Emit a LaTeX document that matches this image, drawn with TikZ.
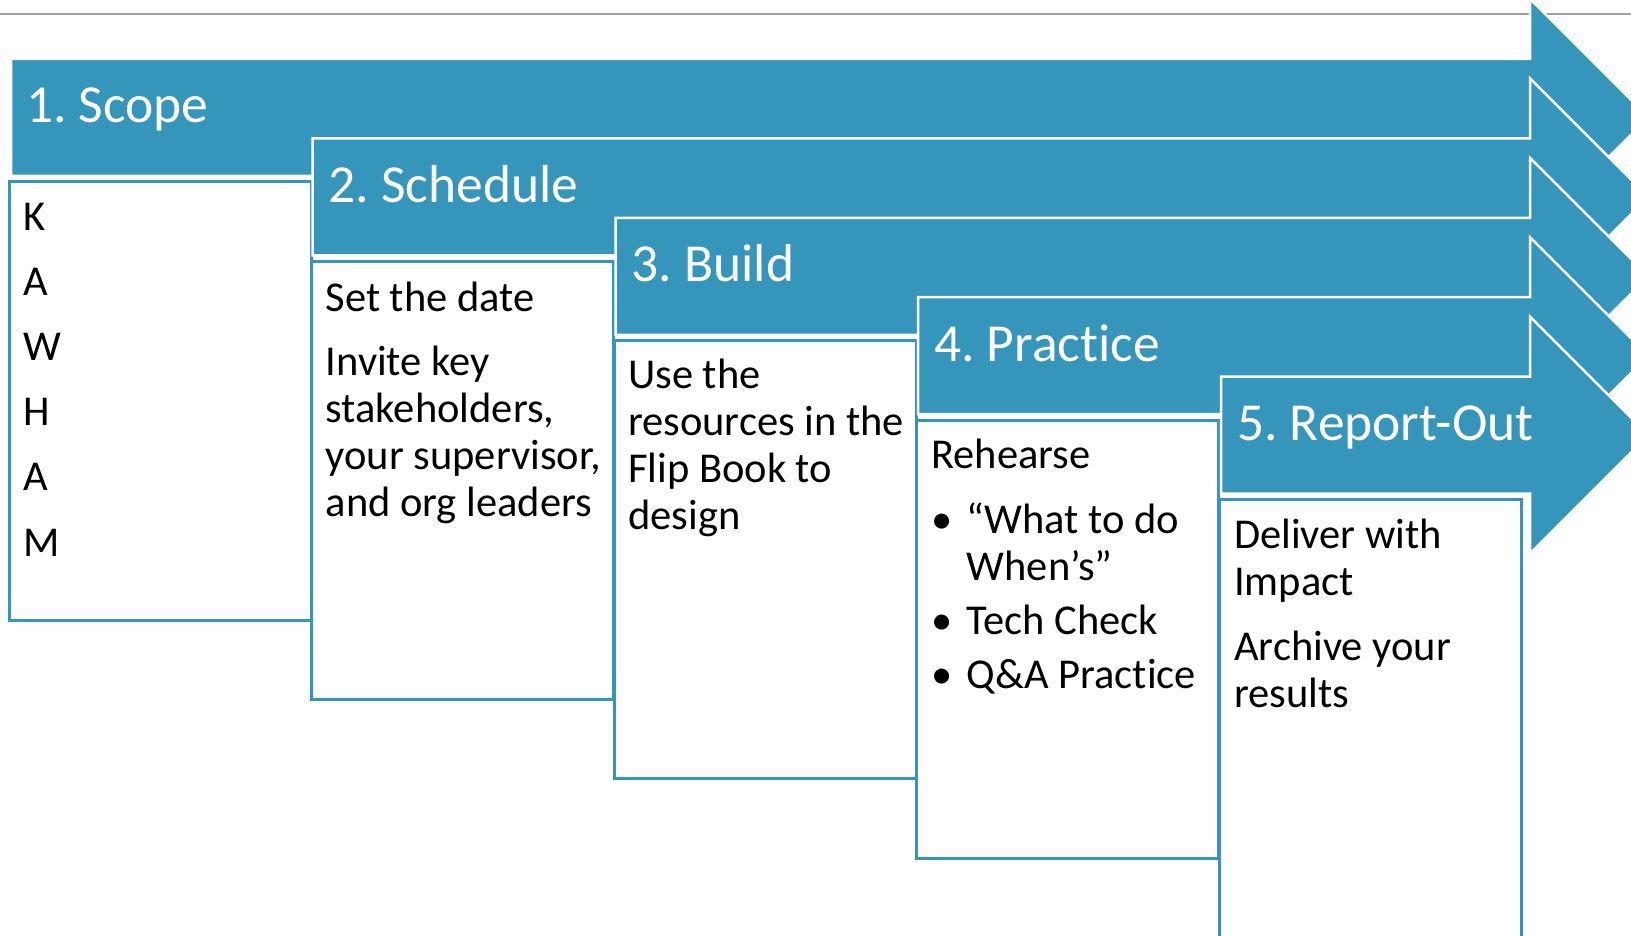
\documentclass[tikz,border=0pt]{standalone}
\usepackage{fontspec}
\setmainfont{Carlito}[Ligatures={NoCommon}]
\frenchspacing
\definecolor{sblue}{RGB}{54,149,187}
\definecolor{topgray}{RGB}{160,160,160}
\tikzset{
  arrowshape/.style={fill=sblue, draw=white, line width=2.5pt, line join=miter},
  cbox/.style={draw=sblue, fill=white, line width=3pt, anchor=north west,
    minimum width=302pt, minimum height=438pt, inner sep=0pt, outer sep=0pt},
  headtext/.style={anchor=base west, inner sep=0pt, text=white,
    font=\fontsize{53.5}{60}\selectfont\frenchspacing},
  bodytext/.style={anchor=base west, inner sep=0pt, text=black,
    font=\fontsize{42.5}{47}\selectfont},
  bullettext/.style={anchor=base, inner sep=0pt, text=black,
    font=\fontsize{42.5}{47}\selectfont},
}
\begin{document}
\begin{tikzpicture}[x=1pt,y=-1pt]
\useasboundingbox (0,0) rectangle (1631,936);
\clip (0,0) rectangle (1631,936);
\fill[white] (0,0) rectangle (1631,936);
\draw[topgray, line width=1.5pt] (0,14) -- (1631,14);

% ---- stage 1
\filldraw[arrowshape] (11,59) -- (1530,59) -- (1530,-1) -- (1648.5,117.5) -- (1530,236) -- (1530,176) -- (11,176) -- cycle;
\node[headtext] (h1) at (26,123) {1. Scope};
\node[cbox] (box1) at (9.5,182) {};
\node[bodytext] (t1a) at (23,230.5) {K};
\node[bodytext] (t1b) at (23,295.6) {A};
\node[bodytext] (t1c) at (23,360.7) {W};
\node[bodytext] (t1d) at (23,425.8) {H};
\node[bodytext] (t1e) at (23,490.9) {A};
\node[bodytext] (t1f) at (23,556) {M};

% ---- stage 2
\filldraw[arrowshape] (312.5,138.4) -- (1530,138.4) -- (1530,78.4) -- (1648.5,196.9) -- (1530,315.4) -- (1530,255.4) -- (312.5,255.4) -- cycle;
\node[headtext] (h2) at (328.5,202.4) {2. Schedule};
\node[cbox] (box2) at (311,261.4) {};
\node[bodytext] (t2a) at (325.5,311) {Set the date};
\node[bodytext] (t2b) at (325.5,375.5) {Invite key};
\node[bodytext] (t2c) at (325.5,422.5) {stakeholders,};
\node[bodytext] (t2d) at (325.5,469.5) {your supervisor,};
\node[bodytext] (t2e) at (325.5,516.5) {and org leaders};

% ---- stage 3
\filldraw[arrowshape] (615.5,217.8) -- (1530,217.8) -- (1530,157.8) -- (1648.5,276.3) -- (1530,394.8) -- (1530,334.8) -- (615.5,334.8) -- cycle;
\node[headtext] (h3) at (631.5,281.8) {3. Build};
\node[cbox] (box3) at (614,340.8) {};
\node[bodytext] (t3a) at (628,388.5) {Use the};
\node[bodytext] (t3b) at (628,435.5) {resources in the};
\node[bodytext] (t3c) at (628,482.5) {Flip Book to};
\node[bodytext] (t3d) at (628,529.5) {design};

% ---- stage 4
\filldraw[arrowshape] (918,297.2) -- (1530,297.2) -- (1530,237.2) -- (1648.5,355.7) -- (1530,474.2) -- (1530,414.2) -- (918,414.2) -- cycle;
\node[headtext] (h4) at (934,361.2) {4. Practice};
\node[cbox] (box4) at (916.5,420.2) {};
\node[bodytext] (t4a) at (931,468.5) {Rehearse};
\node[bullettext] (d4b) at (942,533) {•};
\node[bodytext] (t4b) at (966.5,533) {“What to do};
\node[bodytext] (t4c) at (966.5,580) {When’s”};
\node[bullettext] (d4d) at (942,634) {•};
\node[bodytext] (t4d) at (966.5,634) {Tech Check};
\node[bullettext] (d4e) at (942,688.5) {•};
\node[bodytext] (t4e) at (966.5,688.5) {Q\&A Practice};

% ---- stage 5
\filldraw[arrowshape] (1221,376.6) -- (1530,376.6) -- (1530,316.6) -- (1648.5,435.1) -- (1530,553.6) -- (1530,493.6) -- (1221,493.6) -- cycle;
\node[headtext] (h5) at (1237,440.6) {5. Report-Out};
\node[cbox] (box5) at (1219.5,499.6) {};
\node[bodytext] (t5a) at (1234,548) {Deliver with};
\node[bodytext] (t5b) at (1234,595) {Impact};
\node[bodytext] (t5c) at (1234,660) {Archive your};
\node[bodytext] (t5d) at (1234,707) {results};
\end{tikzpicture}
\end{document}
